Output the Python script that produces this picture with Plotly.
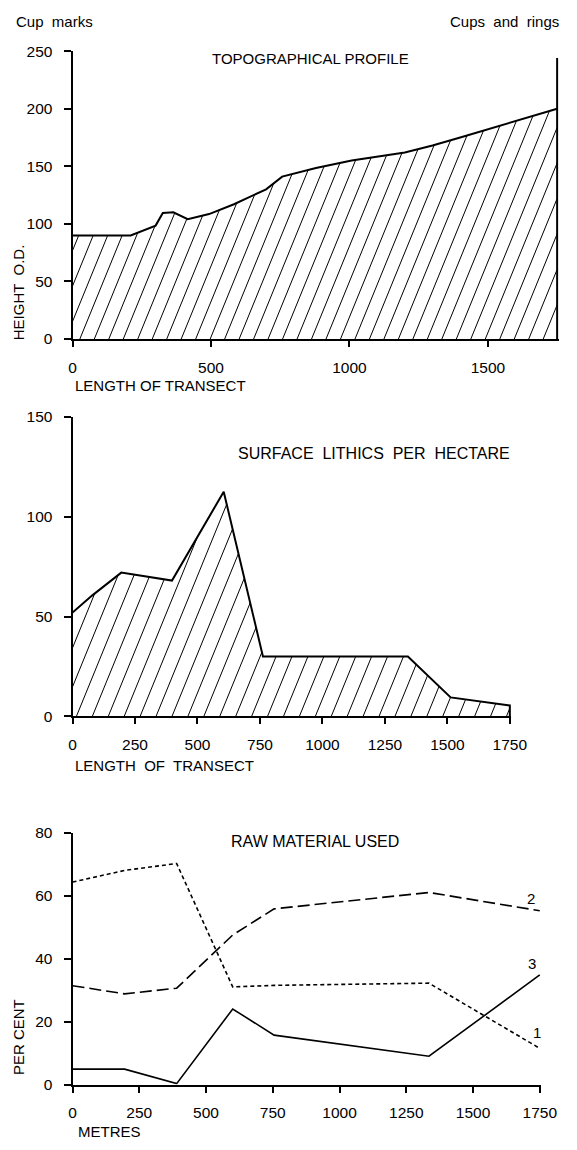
import numpy as np
import plotly.graph_objects as go

W, H = 577, 1150

# ---------------- data ----------------
topo_x = [0, 210, 300, 326, 364, 416, 493, 583, 699, 757, 879, 1008, 1200, 1300, 1400, 1500, 1600, 1750]
topo_y = [90, 90, 98.5, 109.5, 110, 104, 108.5, 117, 130, 141, 148.5, 155, 162, 168, 175, 182, 189, 200]
cups_rings_x = 1750
cups_rings_top = 244

lith_x = [0, 78, 195, 398, 605, 762, 1342, 1513, 1750]
lith_y = [52, 60.5, 72, 68, 112.5, 30, 30, 9.5, 5.5]

raw_x = [0, 195, 390, 600, 755, 1335, 1750]
raw_1 = [64.3, 68, 70.2, 31, 31.5, 32.2, 11.5]
raw_2 = [31.4, 28.8, 30.6, 47.5, 55.8, 61, 55.2]
raw_3 = [4.9, 4.9, 0.3, 24, 15.7, 9, 34.8]

x_max = 1750
top_ticks_x = [0, 500, 1000, 1500]
quarter_ticks_x = [0, 250, 500, 750, 1000, 1250, 1500, 1750]

# ---------------- layout geometry (pixels) ----------------
panels = {
    "top": dict(xpx=(71, 573), ypx=(42.7, 335), yr=250),
    "mid": dict(xpx=(71, 524), ypx=(414, 718), yr=150),
    "bot": dict(xpx=(71, 555), ypx=(836, 1091.7), yr=80),
}
XPAD = 6  # small extra range so edge lines are not clipped

FONT = "Liberation Sans, Arial, sans-serif"


def px2paper_x(px):
    return px / W


def px2paper_y(py):
    return 1 - py / H


def hatch(xs, ys, p, spacing, slope):
    """Diagonal hatching computed by clipping slanted lines to the area under the curve."""
    x0, x1 = p["xpx"]
    yt, yb = p["ypx"]
    kx = (x1 - x0) / x_max
    ky = (yb - yt) / p["yr"]
    wpx = x_max * kx
    hpx = max(ys) * ky
    Ys = np.linspace(0, hpx, 4000)
    hx, hy = [], []
    c = -hpx / slope
    while c < wpx:
        Xp = c + Ys / slope
        xd = Xp / kx
        yd = Ys / ky
        f = np.interp(xd, xs, ys)
        inside = (xd >= 0) & (xd <= x_max) & (yd <= f)
        idx = np.nonzero(inside)[0]
        if len(idx) >= 2:
            br = np.nonzero(np.diff(idx) > 1)[0]
            end = idx[br[0]] if len(br) else idx[-1]
            hx += [float(xd[idx[0]]), float(xd[end]), None]
            hy += [float(yd[idx[0]]), float(yd[end]), None]
        c += spacing
    return hx, hy


fig = go.Figure()

# ---- top panel ----
hx, hy = hatch(topo_x, topo_y, panels["top"], 15.0, 2.4)
fig.add_trace(go.Scatter(x=hx, y=hy, mode="lines", line=dict(color="black", width=1),
                         xaxis="x", yaxis="y", hoverinfo="skip"))
fig.add_trace(go.Scatter(x=topo_x, y=topo_y, mode="lines", line=dict(color="black", width=2),
                         xaxis="x", yaxis="y"))
fig.add_trace(go.Scatter(x=[cups_rings_x, cups_rings_x], y=[0, cups_rings_top], mode="lines",
                         line=dict(color="black", width=2), xaxis="x", yaxis="y"))

# ---- middle panel ----
hx, hy = hatch(lith_x, lith_y, panels["mid"], 16.5, 2.4)
fig.add_trace(go.Scatter(x=hx, y=hy, mode="lines", line=dict(color="black", width=1),
                         xaxis="x2", yaxis="y2", hoverinfo="skip"))
fig.add_trace(go.Scatter(x=lith_x + [lith_x[-1]], y=lith_y + [0], mode="lines",
                         line=dict(color="black", width=2), xaxis="x2", yaxis="y2"))

# ---- bottom panel ----
fig.add_trace(go.Scatter(x=raw_x, y=raw_1, mode="lines",
                         line=dict(color="black", width=1.6, dash="4px,3px"), xaxis="x3", yaxis="y3"))
fig.add_trace(go.Scatter(x=raw_x, y=raw_2, mode="lines",
                         line=dict(color="black", width=1.6, dash="12px,5px"), xaxis="x3", yaxis="y3"))
fig.add_trace(go.Scatter(x=raw_x, y=raw_3, mode="lines",
                         line=dict(color="black", width=1.6), xaxis="x3", yaxis="y3"))


def axes(p, tickvals_x, dtick_y):
    x0, x1 = p["xpx"]
    yt, yb = p["ypx"]
    kx = (x1 - x0) / x_max
    xa = dict(domain=[px2paper_x(x0), px2paper_x(x1 + kx * XPAD)],
              range=[0, x_max + XPAD], showline=True, linecolor="black", linewidth=2,
              ticks="outside", ticklen=6, tickwidth=2, tickcolor="black",
              tickvals=tickvals_x, ticktext=[str(v) for v in tickvals_x],
              showgrid=False, zeroline=False, ticklabelstandoff=7,
              tickfont=dict(family=FONT, size=15.5, color="black"), fixedrange=True)
    ya = dict(domain=[px2paper_y(yb), px2paper_y(yt)], range=[0, p["yr"]],
              showline=True, linecolor="black", linewidth=2,
              ticks="outside", ticklen=7, tickwidth=2, tickcolor="black",
              dtick=dtick_y, tick0=0, showgrid=False, zeroline=False, ticklabelstandoff=8,
              tickfont=dict(family=FONT, size=15.5, color="black"), fixedrange=True)
    return xa, ya


xa1, ya1 = axes(panels["top"], top_ticks_x, 50)
xa2, ya2 = axes(panels["mid"], quarter_ticks_x, 50)
xa3, ya3 = axes(panels["bot"], quarter_ticks_x, 20)
xa1["anchor"] = "y"; ya1["anchor"] = "x"
xa2["anchor"] = "y2"; ya2["anchor"] = "x2"
xa3["anchor"] = "y3"; ya3["anchor"] = "x3"


def ann(text, px, py, xanchor="center", size=15, angle=0):
    return dict(text=text, x=px2paper_x(px), y=px2paper_y(py), xref="paper", yref="paper",
                xanchor=xanchor, yanchor="middle", showarrow=False, textangle=angle,
                font=dict(family=FONT, size=size, color="black"))


annotations = [
    ann("Cup  marks", 10, 13, "left"),
    ann("Cups  and  rings", 577, 13, "right"),
    ann("TOPOGRAPHICAL PROFILE", 318, 50),
    ann("HEIGHT  O.D.", 15, 287, angle=-90),
    ann("LENGTH OF TRANSECT", 71, 382, "left"),
    ann("SURFACE  LITHICS  PER  HECTARE", 383, 451, size=16),
    ann("LENGTH  OF  TRANSECT", 71, 768, "left"),
    ann("RAW MATERIAL USED", 322, 845, size=16),
    ann("PER CENT", 15, 1043, angle=-90),
    ann("METRES", 75, 1139, "left"),
]
# series labels placed at series ends (data coords)
for txt, yv, xv in [("2", 59, 1718), ("3", 38.5, 1720), ("1", 16.5, 1738)]:
    annotations.append(dict(text=txt, x=xv, y=yv, xref="x3", yref="y3", showarrow=False,
                            xanchor="center", yanchor="middle",
                            font=dict(family=FONT, size=15, color="black")))

fig.update_layout(
    width=W, height=H, margin=dict(l=0, r=0, t=0, b=0),
    paper_bgcolor="white", plot_bgcolor="white", showlegend=False,
    xaxis=xa1, yaxis=ya1, xaxis2=xa2, yaxis2=ya2, xaxis3=xa3, yaxis3=ya3,
    annotations=annotations,
)

# remove the browser's default page margin so the figure sits at the window origin
fig.write_html("out.html", config={"displayModeBar": False, "staticPlot": True},
               post_script="document.body.style.margin='0px';")
